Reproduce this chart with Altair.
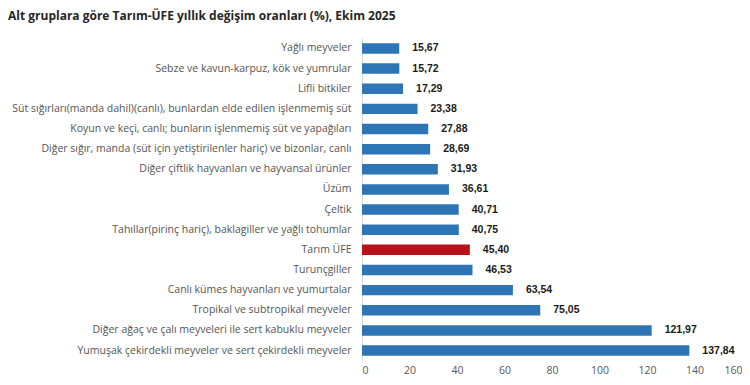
import altair as alt
import pandas as pd

categories = [
    "Yağlı meyveler",
    "Sebze ve kavun-karpuz, kök ve yumrular",
    "Lifli bitkiler",
    "Süt sığırları(manda dahil)(canlı), bunlardan elde edilen işlenmemiş süt",
    "Koyun ve keçi, canlı; bunların işlenmemiş süt ve yapağıları",
    "Diğer sığır, manda (süt için yetiştirilenler hariç) ve bizonlar, canlı",
    "Diğer çiftlik hayvanları ve hayvansal ürünler",
    "Üzüm",
    "Çeltik",
    "Tahıllar(pirinç hariç), baklagiller ve yağlı tohumlar",
    "Tarım ÜFE",
    "Turunçgiller",
    "Canlı kümes hayvanları ve yumurtalar",
    "Tropikal ve subtropikal meyveler",
    "Diğer ağaç ve çalı meyveleri ile sert kabuklu meyveler",
    "Yumuşak çekirdekli meyveler ve sert çekirdekli meyveler",
]
values = [15.67, 15.72, 17.29, 23.38, 27.88, 28.69, 31.93, 36.61, 40.71, 40.75,
          45.40, 46.53, 63.54, 75.05, 121.97, 137.84]
highlight = "Tarım ÜFE"
x_ticks = [0, 20, 40, 60, 80, 100, 120, 140, 160]

df = pd.DataFrame({"cat": categories, "val": values})
df["label"] = [f"{v:.2f}".replace(".", ",") for v in values]
df["grp"] = ["h" if c == highlight else "n" for c in categories]

y_enc = alt.Y("cat:N", sort=categories, title=None,
              scale=alt.Scale(paddingInner=0.48, paddingOuter=0.26),
              axis=alt.Axis(labelFont="Open Sans", labelFontSize=10.5,
                            labelColor="#555555", labelPadding=11, ticks=False,
                            domainColor="#d9d9d9", labelLimit=400))
x_enc = alt.X("val:Q", title=None,
              scale=alt.Scale(domain=[0, 160], nice=False),
              axis=alt.Axis(values=x_ticks, labelFont="Open Sans", labelFontSize=10.5,
                            labelColor="#595959", grid=False, domain=False,
                            ticks=False, labelPadding=4))

bars = alt.Chart(df).mark_bar().encode(
    x=x_enc, y=y_enc,
    color=alt.Color("grp:N", scale=alt.Scale(domain=["n", "h"], range=["#2E75B6", "#B5121B"]), legend=None),
)
text = alt.Chart(df).mark_text(align="left", dx=13, font="Liberation Sans",
                               fontWeight="bold", fontSize=10.5, color="#1a1a1a").encode(
    x="val:Q", y=alt.Y("cat:N", sort=categories), text="label:N")

chart = (bars + text).properties(
    width=380, height=323,
    autosize=alt.AutoSizeParams(type="none"),
    padding={"left": 354, "top": 30, "right": 0, "bottom": 16},
    title=alt.TitleParams("Alt gruplara göre Tarım-ÜFE yıllık değişim oranları (%), Ekim 2025",
                          anchor="start", frame="group", dx=-354, offset=15,
                          font="Open Sans", fontSize=12, fontWeight="bold", color="#262626"),
).configure_view(stroke=None)

chart.save("out.html", embed_options={"renderer": "svg", "actions": False})
